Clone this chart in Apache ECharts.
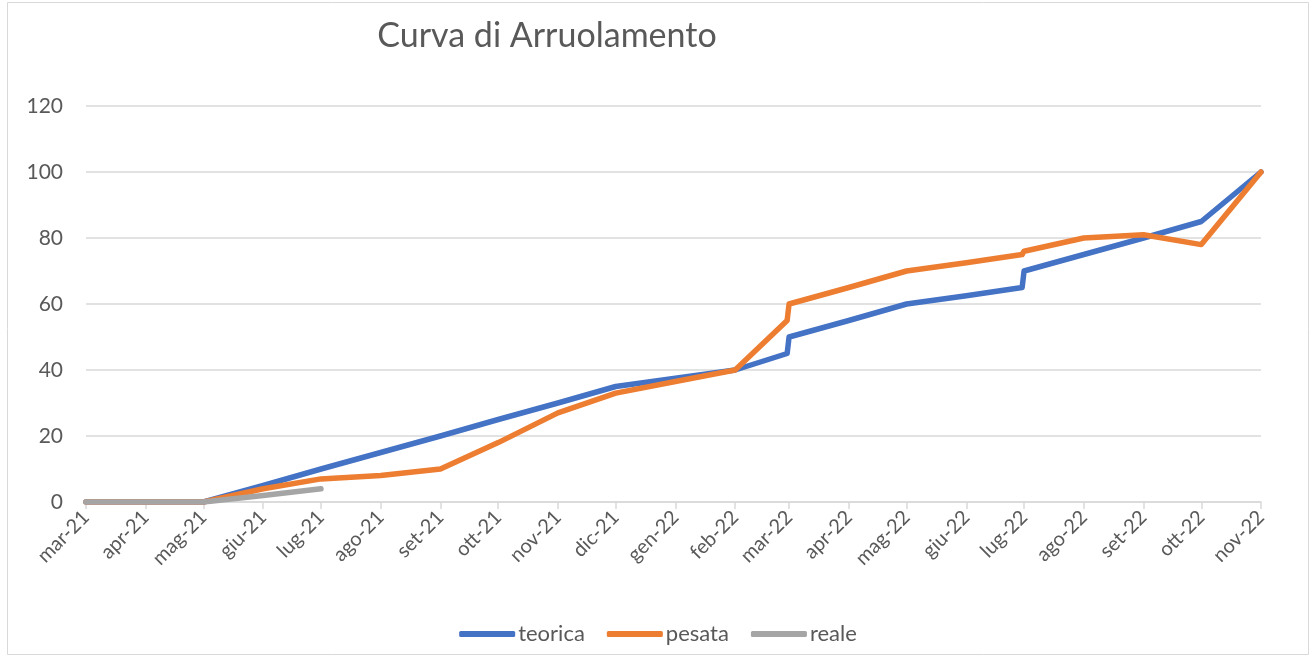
<!DOCTYPE html>
<html>
<head>
<meta charset="utf-8">
<script src="https://cdn.jsdelivr.net/npm/echarts@6/dist/echarts.min.js"></script>
<style>html,body{margin:0;padding:0;background:#fff}#c{width:1316px;height:664px}</style>
</head>
<body>
<div id="c"></div>
<script>
const monthTicks = ['2021-03-01','2021-04-01','2021-05-01','2021-06-01','2021-07-01','2021-08-01','2021-09-01','2021-10-01','2021-11-01','2021-12-01','2022-01-01','2022-02-01','2022-03-01','2022-04-01','2022-05-01','2022-06-01','2022-07-01','2022-08-01','2022-09-01','2022-10-01','2022-11-01'];
const monthLabels = ['mar-21','apr-21','mag-21','giu-21','lug-21','ago-21','set-21','ott-21','nov-21','dic-21','gen-22','feb-22','mar-22','apr-22','mag-22','giu-22','lug-22','ago-22','set-22','ott-22','nov-22'];
const yTicks = [0,20,40,60,80,100,120];

const teoricaDates = ['2021-03-01','2021-04-01','2021-05-01','2021-06-01','2021-07-01','2021-08-01','2021-09-01','2021-10-01','2021-11-01','2021-12-01','2022-01-01','2022-02-01','2022-02-28','2022-03-01','2022-04-01','2022-05-01','2022-06-01','2022-06-30','2022-07-01','2022-08-01','2022-09-01','2022-10-01','2022-11-01'];
const teoricaValues = [0,0,0,5,10,15,20,25,30,35,37.5,40,45,50,55,60,62.5,65,70,75,80,85,100];

const pesataDates = ['2021-03-01','2021-04-01','2021-05-01','2021-06-01','2021-07-01','2021-08-01','2021-09-01','2021-10-01','2021-11-01','2021-12-01','2022-01-01','2022-02-01','2022-02-28','2022-03-01','2022-04-01','2022-05-01','2022-06-01','2022-06-30','2022-07-01','2022-08-01','2022-09-01','2022-10-01','2022-11-01'];
const pesataValues = [0,0,0,4,7,8,10,18,27,33,36.5,40,55,60,65,70,72.5,75,76,80,81,78,100];

const realeDates = ['2021-03-01','2021-04-01','2021-05-01','2021-06-01','2021-07-01'];
const realeValues = [0,0,0,2,4];

const t = s => Date.parse(s);
const pairs = (d, v) => d.map((x, i) => [t(x), v[i]]);
const tickTs = monthTicks.map(t);
const labelOf = {};
tickTs.forEach((x, i) => labelOf[x] = monthLabels[i]);

const FONT = 'Lato, "Open Sans", sans-serif';
const chart = echarts.init(document.getElementById('c'), null, {renderer: 'canvas'});
const lineStyle = c => ({width: 5.5, color: c, cap: 'round', join: 'round'});
chart.setOption({
  animation: false,
  backgroundColor: '#fff',
  textStyle: {fontFamily: FONT},
  graphic: [{type: 'rect', shape: {x: 7.5, y: 2.5, width: 1301, height: 652}, style: {fill: 'none', stroke: '#D9D9D9', lineWidth: 1}, silent: true, z: -1}],
  title: {
    text: 'Curva di Arruolamento',
    left: 542, top: 14, textAlign: 'center',
    textStyle: {fontFamily: FONT, fontSize: 34, fontWeight: 'normal', color: '#595959'}
  },
  legend: {
    top: 618, left: 'center',
    itemWidth: 56, itemHeight: 6, itemGap: 22, icon: 'roundRect',
    textStyle: {fontFamily: FONT, fontSize: 22, color: '#595959', padding: [0, 0, 0, -2]},
    data: ['teorica', 'pesata', 'reale']
  },
  grid: {left: 86, right: 55, top: 106, bottom: 162, containLabel: false},
  xAxis: {
    type: 'value',
    min: tickTs[0], max: tickTs[tickTs.length - 1],
    axisLine: {show: true, lineStyle: {color: '#D9D9D9', width: 1.5}},
    axisTick: {show: true, customValues: tickTs, length: 7, lineStyle: {color: '#D9D9D9', width: 1.5}},
    splitLine: {show: false},
    axisLabel: {
      customValues: tickTs, rotate: 45, margin: 12,
      fontFamily: FONT, fontSize: 20, color: '#595959',
      formatter: v => labelOf[v] || ''
    }
  },
  yAxis: {
    type: 'value', min: yTicks[0], max: yTicks[yTicks.length - 1], interval: 20,
    axisLine: {show: false}, axisTick: {show: false},
    splitLine: {lineStyle: {color: '#D9D9D9', width: 1.5}},
    axisLabel: {margin: 23, fontFamily: FONT, fontSize: 21, color: '#595959'}
  },
  series: [
    {name: 'teorica', type: 'line', data: pairs(teoricaDates, teoricaValues), showSymbol: false, symbol: 'none', lineStyle: lineStyle('#4472C4'), itemStyle: {color: '#4472C4'}},
    {name: 'pesata', type: 'line', data: pairs(pesataDates, pesataValues), showSymbol: false, symbol: 'none', lineStyle: lineStyle('#ED7D31'), itemStyle: {color: '#ED7D31'}},
    {name: 'reale', type: 'line', data: pairs(realeDates, realeValues), showSymbol: false, symbol: 'none', lineStyle: lineStyle('#A5A5A5'), itemStyle: {color: '#A5A5A5'}}
  ]
});
</script>
</body>
</html>
